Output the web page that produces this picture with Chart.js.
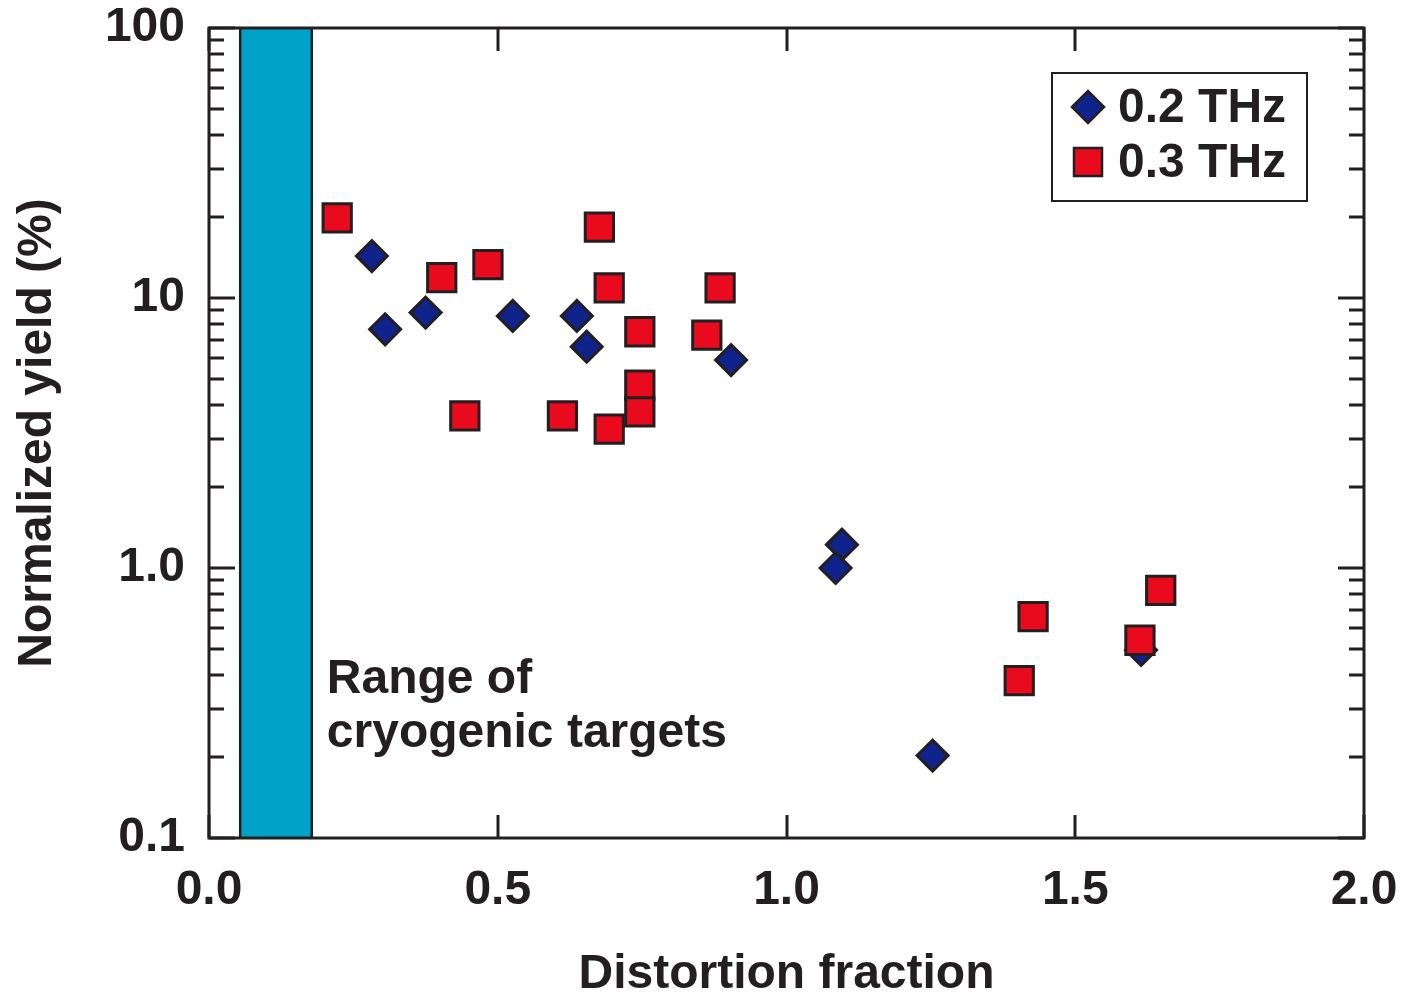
<!DOCTYPE html>
<html>
<head>
<meta charset="utf-8">
<script src="https://cdn.jsdelivr.net/npm/chart.js@4/dist/chart.umd.min.js"></script>
<style>
  body { margin: 0; background: #fff; }
  #wrap { width: 1401px; height: 996px; }
</style>
</head>
<body>
<div id="wrap"><canvas id="chart" width="1401" height="996"></canvas></div>
<script>
// data
const thz02X = [0.282, 0.305, 0.375, 0.526, 0.637, 0.654, 0.904, 1.096, 1.085, 1.253, 1.614];
const thz02Y = [14.3, 7.66, 8.83, 8.58, 8.58, 6.60, 5.89, 1.22, 1.00, 0.202, 0.497];
const thz03X = [0.222, 0.676, 0.483, 0.403, 0.693, 0.885, 0.746, 0.862, 0.746, 0.746, 0.443, 0.612, 0.693, 1.427, 1.403, 1.648, 1.612];
const thz03Y = [19.8, 18.3, 13.3, 11.9, 10.9, 10.9, 7.50, 7.29, 4.76, 3.79, 3.66, 3.66, 3.27, 0.660, 0.383, 0.827, 0.540];
const seriesNames = ['0.2 THz', '0.3 THz'];

const xTickValues = [0, 0.5, 1.0, 1.5, 2.0];
const xTickLabels = ['0.0', '0.5', '1.0', '1.5', '2.0'];
const yTickValues = [0.1, 1, 10, 100];
const yTickLabels = ['0.1', '1.0', '10', '100'];
const yMinorValues = [0.2, 0.3, 0.4, 0.5, 0.6, 0.7, 0.8, 0.9, 2, 3, 4, 5, 6, 7, 8, 9, 20, 30, 40, 50, 60, 70, 80, 90];

const cryoRange = [0.054, 0.178];
const cryoLabel = ['Range of', 'cryogenic targets'];

const ink = '#231f20';
const font = '"Liberation Sans", Arial, Helvetica, sans-serif';

// cyan band for cryogenic range
const bandPlugin = {
  id: 'band',
  beforeDatasetsDraw(chart) {
    const {ctx, chartArea, scales} = chart;
    const x0 = scales.x.getPixelForValue(cryoRange[0]);
    const x1 = scales.x.getPixelForValue(cryoRange[1]);
    ctx.save();
    ctx.fillStyle = '#00a2c8';
    ctx.fillRect(x0, chartArea.top, x1 - x0, chartArea.bottom - chartArea.top);
    ctx.strokeStyle = ink;
    ctx.lineWidth = 2.5;
    ctx.beginPath();
    ctx.moveTo(x0, chartArea.top); ctx.lineTo(x0, chartArea.bottom);
    ctx.moveTo(x1, chartArea.top); ctx.lineTo(x1, chartArea.bottom);
    ctx.stroke();
    // label
    ctx.fillStyle = ink;
    ctx.font = 'bold 48px ' + font;
    ctx.textAlign = 'left';
    ctx.textBaseline = 'alphabetic';
    const tx = scales.x.getPixelForValue(0.204);
    const ty = scales.y.getPixelForValue(0.344);
    cryoLabel.forEach((line, i) => ctx.fillText(line, tx, ty + i * 54));
    ctx.restore();
  }
};

// frame, inward ticks and legend box
const framePlugin = {
  id: 'frame',
  afterDatasetsDraw(chart) {
    const {ctx, chartArea: a, scales} = chart;
    ctx.save();
    ctx.strokeStyle = ink;
    ctx.lineWidth = 3;
    ctx.beginPath();
    yTickValues.forEach(v => {
      const y = Math.round(scales.y.getPixelForValue(v));
      ctx.moveTo(a.left, y); ctx.lineTo(a.left + 26, y);
      ctx.moveTo(a.right, y); ctx.lineTo(a.right - 26, y);
    });
    yMinorValues.forEach(v => {
      const y = Math.round(scales.y.getPixelForValue(v));
      ctx.moveTo(a.left, y); ctx.lineTo(a.left + 15, y);
      ctx.moveTo(a.right, y); ctx.lineTo(a.right - 15, y);
    });
    xTickValues.forEach(v => {
      const x = Math.round(scales.x.getPixelForValue(v));
      ctx.moveTo(x, a.top); ctx.lineTo(x, a.top + 23);
      ctx.moveTo(x, a.bottom); ctx.lineTo(x, a.bottom - 23);
    });
    ctx.stroke();
    ctx.strokeRect(a.left, a.top, a.right - a.left, a.bottom - a.top);

    // legend
    const bx = a.right - 312, by = a.top + 45, bw = 255, bh = 128;
    ctx.fillStyle = '#fff';
    ctx.fillRect(bx, by, bw, bh);
    ctx.lineWidth = 2;
    ctx.strokeRect(bx, by, bw, bh);
    chart.data.datasets.forEach((ds, i) => {
      const cx = bx + 36, cy = by + 34 + i * 55;
      ctx.fillStyle = ds.backgroundColor;
      ctx.strokeStyle = ink;
      ctx.lineWidth = 2.5;
      ctx.beginPath();
      if (ds.pointStyle === 'rectRot') {
        const r = 16;
        ctx.moveTo(cx - r, cy); ctx.lineTo(cx, cy - r); ctx.lineTo(cx + r, cy); ctx.lineTo(cx, cy + r);
        ctx.closePath();
      } else {
        ctx.rect(cx - 14, cy - 14, 28, 28);
      }
      ctx.fill();
      ctx.stroke();
      ctx.fillStyle = ink;
      ctx.font = 'bold 48px ' + font;
      ctx.textAlign = 'left';
      ctx.textBaseline = 'middle';
      ctx.fillText(ds.label, cx + 30, cy + 2);
    });
    ctx.restore();
  }
};

const noPad = s => { s.paddingLeft = 0; s.paddingRight = 0; s.paddingTop = 0; s.paddingBottom = 0; };

new Chart(document.getElementById('chart'), {
  type: 'scatter',
  data: {
    datasets: [
      {
        label: seriesNames[0],
        data: thz02X.map((x, i) => ({x: x, y: thz02Y[i]})),
        pointStyle: 'rectRot',
        pointRadius: 15.5,
        pointHoverRadius: 15.5,
        backgroundColor: '#10238c',
        borderColor: ink,
        borderWidth: 3,
        order: 1
      },
      {
        label: seriesNames[1],
        data: thz03X.map((x, i) => ({x: x, y: thz03Y[i]})),
        pointStyle: 'rect',
        pointRadius: 20,
        pointHoverRadius: 20,
        backgroundColor: '#ea0a1e',
        borderColor: ink,
        borderWidth: 3,
        order: 0
      }
    ]
  },
  options: {
    responsive: false,
    animation: false,
    layout: { padding: { left: 0, right: 37, top: 28, bottom: 0 } },
    plugins: {
      legend: { display: false },
      tooltip: { enabled: false }
    },
    scales: {
      x: {
        type: 'linear',
        min: 0, max: 2,
        grid: { display: false, drawTicks: false },
        border: { display: false },
        afterBuildTicks: s => { s.ticks = xTickValues.map(v => ({value: v})); },
        afterFit: s => { s.height = 158; noPad(s); },
        ticks: {
          padding: 24,
          color: ink,
          font: { family: font, size: 48, weight: 'bold' },
          callback: (v) => xTickLabels[xTickValues.indexOf(v)],
          maxRotation: 0
        },
        title: {
          display: true,
          text: 'Distortion fraction',
          color: ink,
          font: { family: font, size: 48, weight: 'bold', lineHeight: 1 },
          padding: { top: 0, bottom: -3 }
        }
      },
      y: {
        type: 'logarithmic',
        min: 0.1, max: 100,
        grid: { display: false, drawTicks: false },
        border: { display: false },
        afterBuildTicks: s => { s.ticks = yTickValues.map(v => ({value: v})); },
        afterFit: s => { s.width = 209; noPad(s); },
        ticks: {
          padding: 24,
          color: ink,
          font: { family: font, size: 48, weight: 'bold' },
          callback: (v) => yTickLabels[yTickValues.indexOf(v)]
        },
        title: {
          display: true,
          text: 'Normalized yield (%)',
          color: ink,
          font: { family: font, size: 48, weight: 'bold', lineHeight: 1 },
          padding: { top: 14, bottom: 0 }
        }
      }
    }
  },
  plugins: [bandPlugin, framePlugin]
});
</script>
</body>
</html>
